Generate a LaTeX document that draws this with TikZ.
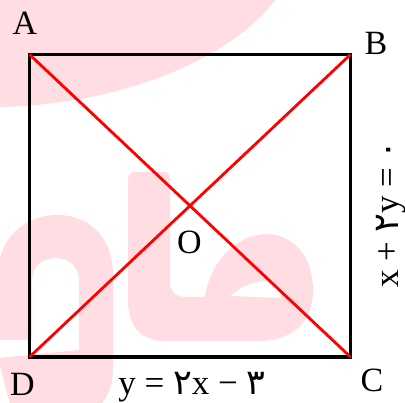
\documentclass[tikz,border=0pt]{standalone}
\usepackage{fontspec}
\setmainfont{Liberation Serif}
\newfontfamily\fadigits{DejaVu Sans}
\definecolor{wmpink}{RGB}{255,221,227}
\definecolor{diagred}{RGB}{255,0,0}
\tikzset{
  wm/.style={fill=wmpink, draw=none},
  sidebox/.style={draw=black, line width=3.4pt, line join=miter},
  diag/.style={draw=diagred, line width=2.8pt},
  lbl/.style={inner sep=0pt, font=\fontsize{34}{40}\selectfont},
  eqn/.style={inner sep=0pt, font=\fontsize{35}{42}\selectfont},
}
\begin{document}
\begin{tikzpicture}[x=1pt, y=-1pt]
\useasboundingbox (0,0) rectangle (405,403);
% watermark
\begin{scope}
\clip (0,0) rectangle (405,403);
\fill[wm] (-2,-2) -- (277,-2) .. controls (230,60) and (120,105) .. (-2,107) -- cycle;
\fill[wm] (12,410) .. controls (6,392) and (2,372) .. (-2,358)
  -- (79,350) -- (79,280) .. controls (79,266) and (68,258) .. (56,258)
  .. controls (42,258) and (32,266) .. (32,280) -- (32,340) -- (-2,340)
  -- (-2,275) .. controls (-2,238) and (25,215) .. (57,215)
  .. controls (92,215) and (113,240) .. (113,275)
  -- (113,368) .. controls (113,390) and (104,402) .. (96,410) -- cycle;
\fill[wm, even odd rule] (128,180) .. controls (128,174) and (131,172) .. (136,172)
  -- (163,172) .. controls (168,172) and (170,174) .. (170,180)
  -- (170,282) .. controls (170,292) and (176,297) .. (186,297) -- (205,297)
  .. controls (208,270) and (230,236) .. (265,234)
  .. controls (295,234) and (313,258) .. (313,290)
  .. controls (313,320) and (295,340) .. (260,341)
  -- (165,341) .. controls (140,341) and (128,325) .. (128,300) -- cycle
  (230,296) .. controls (245,283) and (262,279) .. (272,282)
  .. controls (278,285) and (281,292) .. (281,298) -- cycle;
\end{scope}
% corners
\coordinate (A) at (29.5,54.5);
\coordinate (B) at (350.5,54.5);
\coordinate (C) at (350.5,357);
\coordinate (D) at (29.5,357);
\draw[sidebox] (A) -- (B) -- (C) -- (D) -- cycle;
\draw[diag] (A) -- (C);
\draw[diag] (B) -- (D);
% labels
\node[lbl] (lA) at (25,23.5) {A};
\node[lbl] (lB) at (376,43) {B};
\node[lbl] (lC) at (372,380) {C};
\node[lbl] (lD) at (22.5,384) {D};
\node[lbl] (lO) at (189.5,242.5) {O};
\node[eqn, anchor=base] (eqD) at (192,395) {y = {\fadigits ۲}x − {\fadigits ۳}};
\node[eqn, anchor=base, rotate=90] (eqB) at (398,214) {x + {\fadigits ۲}y = {\fadigits ۰}};
\end{tikzpicture}
\end{document}
